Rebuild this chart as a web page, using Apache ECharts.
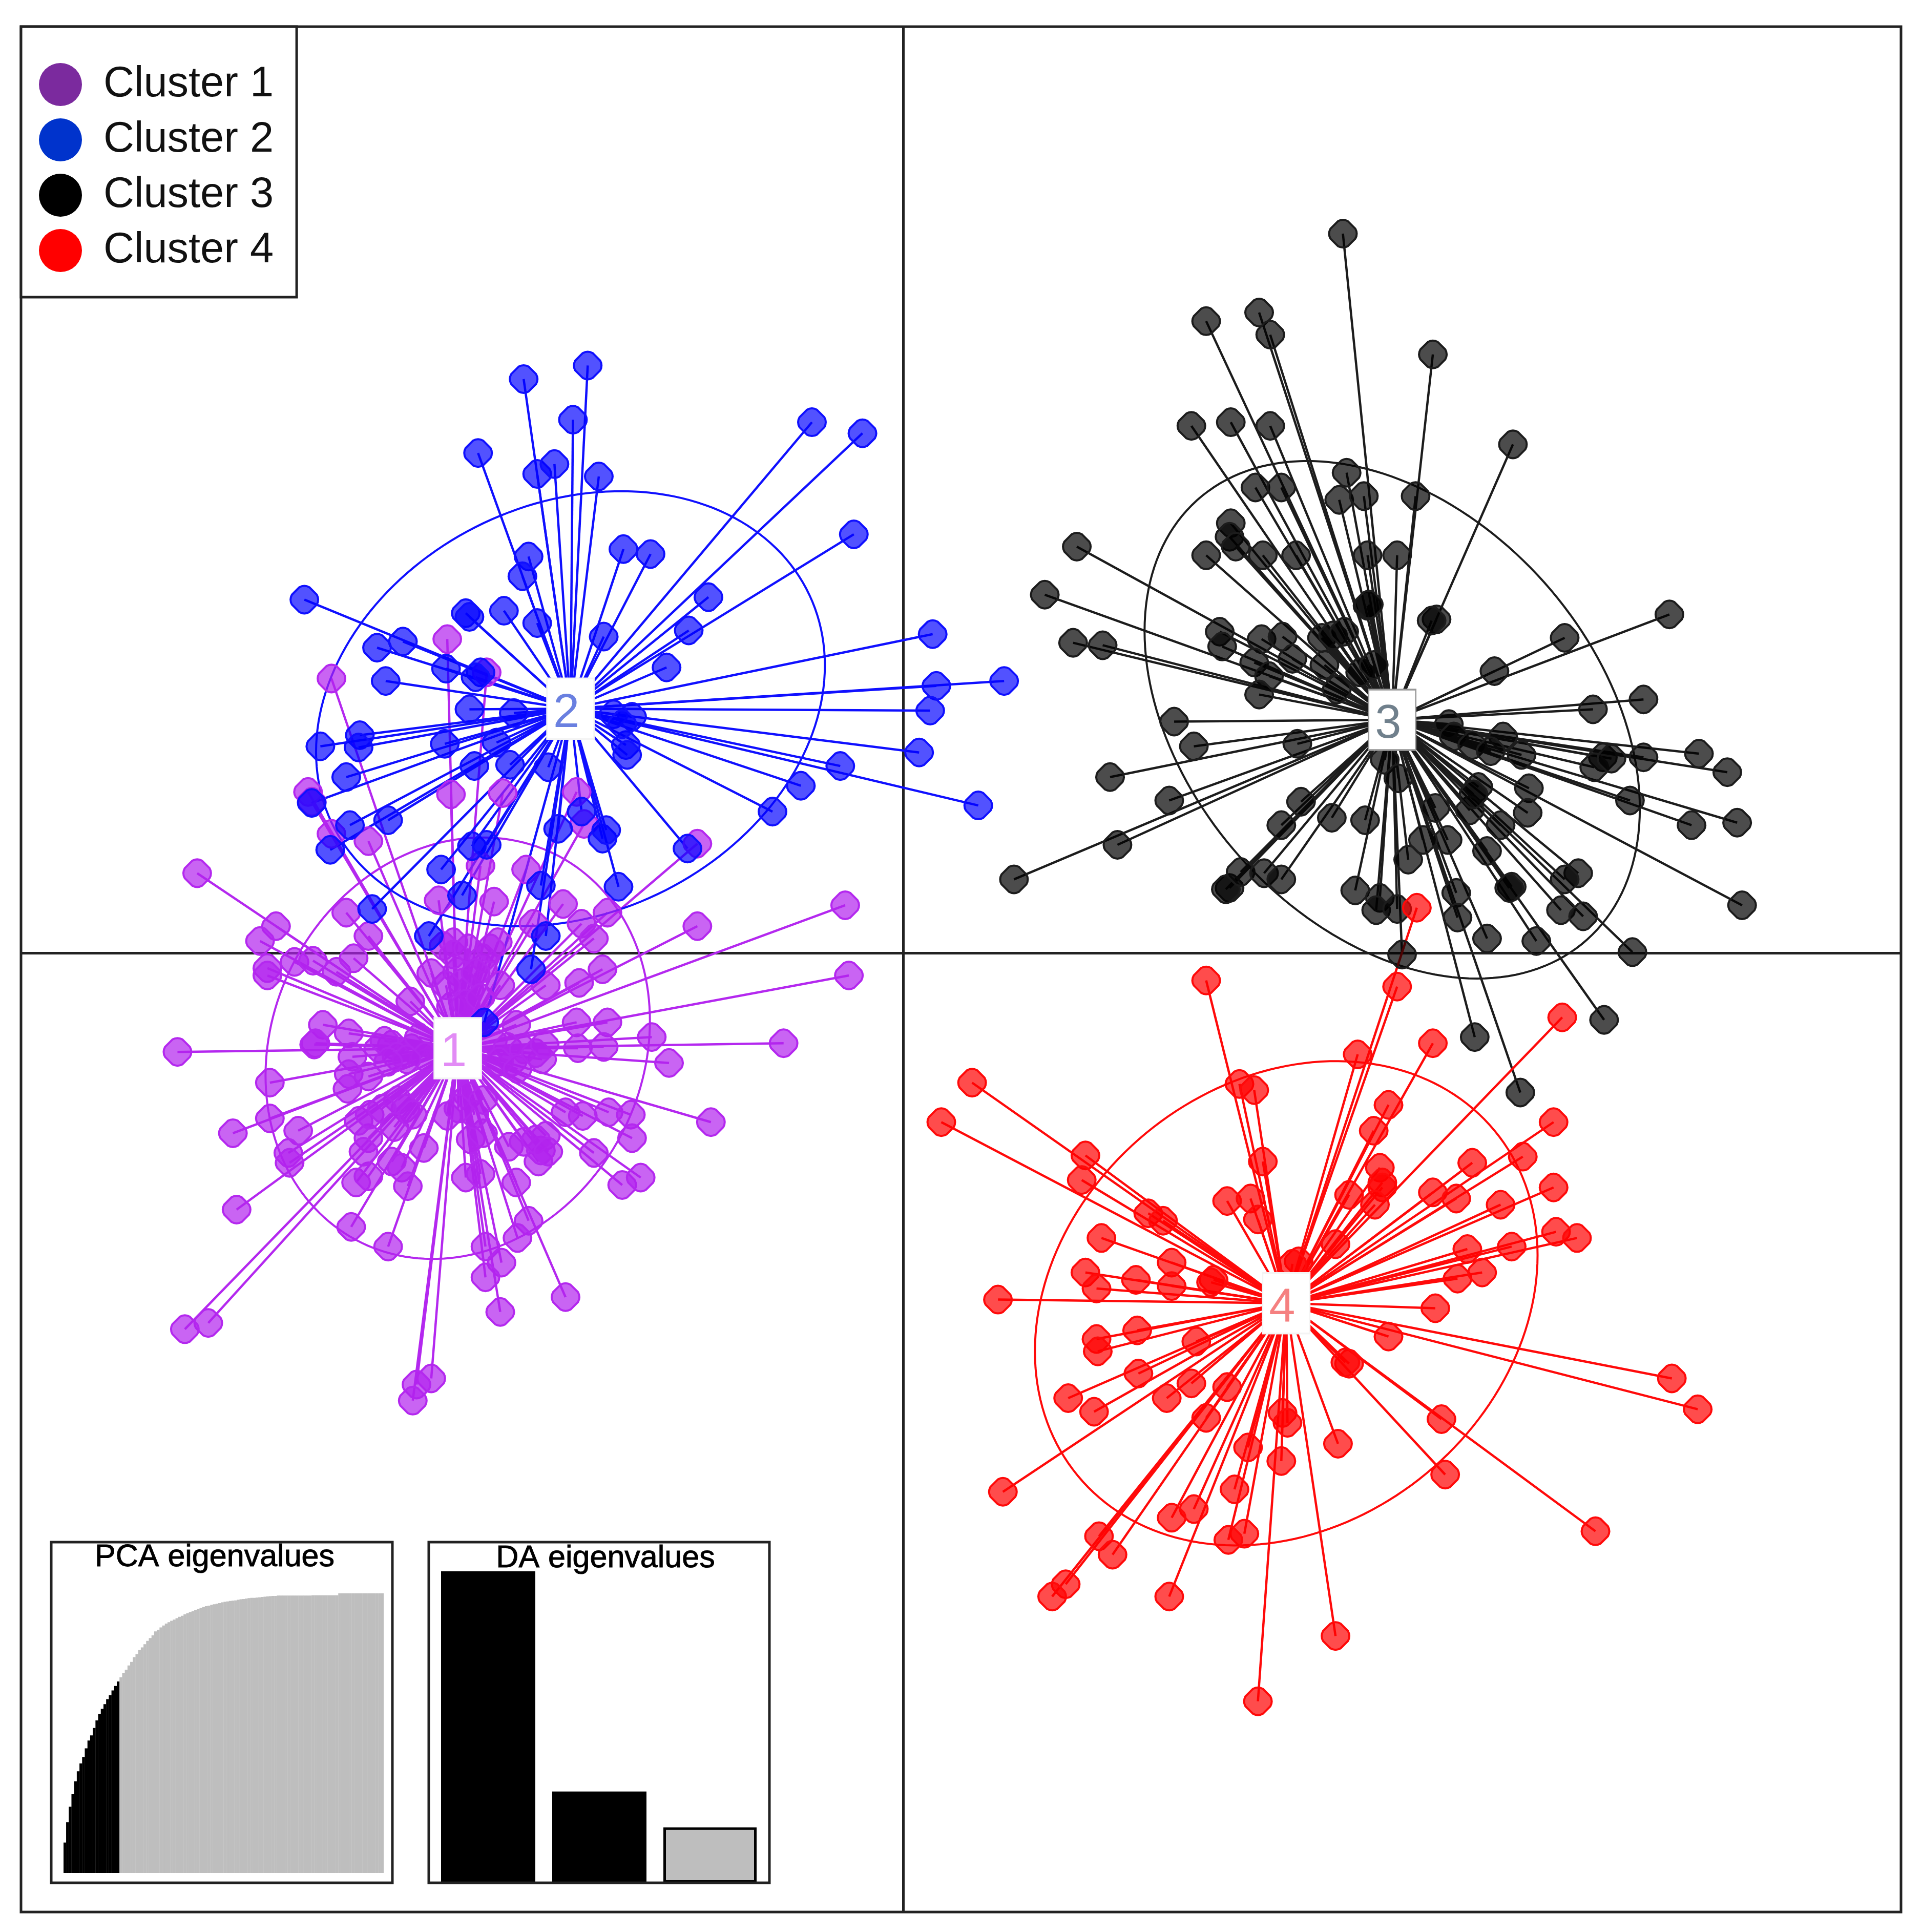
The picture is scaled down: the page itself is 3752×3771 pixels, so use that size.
<!DOCTYPE html>
<html><head><meta charset="utf-8">
<style>html,body{margin:0;padding:0;background:#fff}#c{width:3752px;height:3771px}</style>
<script src="https://cdn.jsdelivr.net/npm/echarts@6/dist/echarts.min.js"></script>
</head><body><div id="c"></div>
<script>
const clusterNames = ['Cluster 1','Cluster 2','Cluster 3','Cluster 4'];
const legendColors = ['#7B2A9E','#0033CC','#000000','#FF0000'];
const lineColors = ['#B428EF','#1010FF','#1C1C1C','#FF0A0A'];
const fillColors = ['rgba(178,34,238,0.7)','rgba(0,0,255,0.68)','rgba(0,0,0,0.7)','rgba(255,0,0,0.7)'];
const labelColors = ['#E28CF5','#6A80E0','#70808C','#F58080'];
const origin = [733,774];
const centroids = [[371.5,851],[463,575.5],[1130,584.5],[1044,1058]];
// halfWidth, halfHeight, skew of each inertia ellipse
const ellipses = [[156,171,-0.13],[206.5,176.5,-0.2],[201,210,0.35],[204,196.5,-0.2]];

const cluster1 = [[363,519],[395,546],[269,551],[250,643],[253,651],[366,645],[408,644],[468,643],[474,669],[269,677],[299,683],[566,685],
[160,709],[281,741],[224,752],[211,764],[299,760],[217,786],[217,792],[239,781],[254,780],[273,789],[287,778],[333,813],[356,731],[390,703],[427,706],
[401,732],[457,734],[433,750],[493,741],[472,750],[482,762],[489,787],[470,798],[443,800],[419,832],[468,830],[493,830],[529,842],[469,851],[490,850],
[440,860],[416,862],[368,765],[404,765],[371,789],[381,803],[366,817],[392,786],[360,768],[144,854],[262,832],[256,847],[255,848],[283,839],[318,848],
[334,851],[307,851],[286,858],[283,872],[299,874],[282,884],[219,879],[219,908],[189,920],[242,918],[234,936],[235,944],[192,982],[299,924],[291,910],
[323,893],[329,900],[363,906],[344,932],[318,943],[326,948],[289,960],[299,955],[331,963],[382,925],[392,920],[378,956],[390,953],[419,960],[413,931],
[425,927],[437,943],[443,922],[439,934],[459,903],[473,906],[494,903],[512,905],[513,924],[482,936],[505,962],[520,956],[285,996],[315,1012],[429,991],
[420,1005],[394,1012],[407,1025],[394,1037],[406,1065],[459,1053],[169,1074],[150,1079],[350,1119],[338,1124],[335,1137],[686,735],[566,752],[689,792],
[636,847],[543,863],[577,911],[368,775],[380,770],[392,778],[375,798],[386,790],[362,800],[378,815],[390,810],[398,770],[312,845],[322,858],[340,842],
[345,858],[330,860],[315,862],[400,845],[412,850],[425,852],[435,855],[405,862],[420,868],[442,848],[300,905],[310,900],[320,915],[335,905],[295,935],
[380,890],[385,905],[372,900],[392,893],[435,925],[445,935],[406,800],[350,790]];

const cluster2 = [[477,297],[425,308],[465,341],[388,368],[436,385],[450,377],[486,387],[429,452],[424,468],[506,446],[528,450],[247,487],[378,498],[381,501],
[409,496],[436,506],[490,517],[575,485],[559,512],[541,542],[327,521],[306,526],[362,543],[390,546],[386,550],[313,553],[381,576],[417,579],[292,597],
[291,607],[260,606],[361,604],[403,603],[281,631],[385,622],[414,621],[445,623],[508,605],[509,613],[513,582],[253,652],[315,666],[284,670],[453,673],
[472,659],[489,681],[492,674],[268,690],[358,706],[383,687],[395,686],[375,727],[439,719],[502,720],[302,738],[348,760],[443,760],[431,787],[393,830],
[659,343],[700,352],[693,434],[757,515],[760,557],[815,553],[755,577],[746,611],[682,622],[650,638],[627,659],[794,654],[558,689],[498,580],[505,588]];

const cluster3 = [[1090,190],[979,261],[1022,254],[1031,272],[1163,288],[1228,361],[967,346],[999,343],[1031,346],[1093,384],[1019,396],[1040,396],[1087,406],
[1107,403],[1149,403],[999,425],[998,436],[1003,444],[979,451],[1025,451],[1052,451],[1110,451],[1134,451],[874,444],[848,483],[1110,492],[1111,491],
[1166,503],[1162,504],[990,513],[992,525],[1024,519],[1041,517],[1073,518],[1082,516],[1270,518],[871,522],[895,524],[1018,538],[1049,535],[1030,549],
[1022,564],[1104,546],[1091,513],[1213,545],[953,586],[969,606],[1053,604],[901,631],[823,714],[949,650],[907,686],[1355,499],[1334,568],[1293,576],
[1176,588],[1220,598],[1235,613],[1301,615],[1294,623],[1308,616],[1334,615],[1379,612],[1402,627],[1124,617],[1241,640],[1240,660],[1323,650],[1373,670],
[1410,668],[1200,639],[1193,658],[1196,645],[1165,656],[1056,651],[1040,670],[1081,664],[1108,666],[1218,670],[1207,691],[1175,682],[1155,682],[1143,698],
[1227,720],[1225,721],[1281,709],[1270,714],[1182,725],[1183,745],[1207,762],[1247,764],[1267,739],[1285,744],[1325,773],[1414,735],[1302,828],[1197,842],
[1234,887],[1138,775],[1100,723],[1120,729],[1117,739],[1134,738],[998,721],[995,722],[1007,708],[1026,709],[1040,714],[1180,598],[1195,605],[1210,610],
[1135,632],[1085,560],[1115,540],[1075,540]];

const cluster4 = [[1150,737],[979,796],[1134,801],[1163,847],[1102,856],[789,879],[764,911],[1006,880],[1018,885],[1127,897],[1115,918],[881,938],[878,958],
[1025,943],[1120,948],[1122,960],[1122,964],[1195,944],[1095,970],[1116,978],[1163,968],[1182,973],[1218,978],[996,975],[1015,973],[1021,990],[1084,1010],
[932,985],[944,991],[894,1005],[951,1025],[1054,1024],[1049,1026],[881,1033],[922,1039],[951,1044],[985,1039],[983,1041],[890,1046],[810,1055],[1191,1014],
[1227,1012],[1183,1038],[1203,1033],[1165,1062],[1127,1085],[923,1080],[890,1087],[891,1097],[971,1089],[1095,1107],[1092,1106],[924,1115],[967,1123],
[996,1126],[947,1135],[867,1135],[888,1146],[979,1151],[1041,1147],[1045,1155],[1170,1152],[1268,826],[1261,911],[1236,939],[1261,964],[1263,1000],[1280,1005],
[1357,1119],[1378,1144],[1173,1197],[1295,1243],[1086,1172],[1040,1186],[1013,1175],[814,1211],[1002,1209],[969,1225],[951,1232],[1010,1245],[997,1250],
[892,1247],[903,1262],[865,1286],[854,1296],[949,1296],[1084,1328],[1021,1381]];
const clusters = [cluster1,cluster2,cluster3,cluster4];

const pcaRetained = [.109,.182,.237,.282,.328,.364,.392,.415,.446,.474,.492,.519,.546,.569,.587,.604,.622,.636,.653,.669,.685];
const pcaOther = [.700,.716,.727,.742,.755,.772,.783,.797,.807,.818,.830,.840,.850,.864,.870,.878,.885,.892,.897,.902,.906,.911,.916,.920,.925,.929,.933,.936,.940,.944,
.948,.951,.954,.956,.959,.961,.963,.965,.968,.970,.971,.973,.974,.975,.977,.979,.980,.981,.983,.984,.984,.985,.986,.987,.988,.989,.990,.991,.991,.992,
.992,.992,.992,.992,.992,.992,.992,.992,.992,.992,.992,.992,.993,.993,.993,.993,.993,.993,.993,.993,.993,.993,
1,1,1,1,1,1,1,1,1,1,1,1,1,1,1,1,1];
const pcaTitle = 'PCA eigenvalues';
const daTitle = 'DA eigenvalues';
const daRetained = [1,.293];
const daOther = [.178];

const series = [];
series.push({type:'line',data:[],xAxisIndex:0,yAxisIndex:0,silent:true,z:1,
  markLine:{silent:true,z:1,symbol:'none',label:{show:false},animation:false,
    lineStyle:{color:'#222',width:5,type:'solid'},
    data:[{xAxis:origin[0]},{yAxis:origin[1]}]}});
clusters.forEach((pts,i)=>{
  const c = centroids[i], e = ellipses[i];
  series.push({type:'custom',name:clusterNames[i],coordinateSystem:'cartesian2d',xAxisIndex:0,yAxisIndex:0,z:2,
    data:[c],encode:{x:0,y:1},itemStyle:{color:lineColors[i]},
    renderItem:(p,api)=>{
      const points=[];
      for(let k=0;k<=180;k++){const t=k/180*Math.PI*2;
        points.push(api.coord([c[0]+e[0]*Math.cos(t),c[1]+e[1]*Math.sin(t+e[2])]));}
      return {type:'polyline',shape:{points},style:{stroke:lineColors[i],fill:'none',lineWidth:4}};
    }});
  series.push({type:'custom',name:clusterNames[i],coordinateSystem:'cartesian2d',xAxisIndex:0,yAxisIndex:0,z:2,
    data:pts,encode:{x:0,y:1},itemStyle:{color:lineColors[i]},
    renderItem:(p,api)=>{
      const a=api.coord(c), b=api.coord([api.value(0),api.value(1)]);
      return {type:'line',shape:{x1:a[0],y1:a[1],x2:b[0],y2:b[1]},style:{stroke:lineColors[i],lineWidth:4.5,fill:'none'}};
    }});
  series.push({type:'scatter',name:clusterNames[i],xAxisIndex:0,yAxisIndex:0,z:2,data:pts,
    symbol:'path://M32,5 Q50,-5 68,5 L95,32 Q105,50 95,68 L68,95 Q50,105 32,95 L5,68 Q-5,50 5,32 Z',
    symbolSize:54,itemStyle:{color:fillColors[i],borderColor:lineColors[i],borderWidth:4,opacity:1}});
});
series.push({type:'scatter',name:'Centroids',xAxisIndex:0,yAxisIndex:0,z:6,
  data:centroids.map((c,i)=>({value:c,
    label:{show:true,position:'inside',offset:[-8,10],formatter:String(i+1),color:labelColors[i],fontSize:92,fontFamily:'Liberation Sans',opacity:1},
    itemStyle:{color:'#fff',borderColor:i===2?'#999':'#f4f4f4',borderWidth:3,opacity:1}})),
  symbol:'rect',symbolSize:[92,118]});
const pcaN = pcaRetained.length+pcaOther.length;
series.push({type:'bar',xAxisIndex:1,yAxisIndex:1,barWidth:'106%',barGap:'-100%',silent:true,z:8,
  data:pcaRetained.concat(pcaOther.map(()=>null)),itemStyle:{color:'#000'}});
series.push({type:'bar',xAxisIndex:1,yAxisIndex:1,barWidth:'106%',barGap:'-100%',silent:true,z:8,
  data:pcaRetained.map(()=>null).concat(pcaOther),itemStyle:{color:'#BEBEBE'}});
series.push({type:'bar',xAxisIndex:2,yAxisIndex:2,barWidth:184,barGap:'-100%',silent:true,z:8,
  data:daRetained.concat(daOther.map(()=>null)),itemStyle:{color:'#000',borderColor:'#000',borderWidth:2}});
series.push({type:'bar',xAxisIndex:2,yAxisIndex:2,barWidth:182,barGap:'-100%',silent:true,z:8,
  data:daRetained.map(()=>null).concat(daOther),itemStyle:{color:'#BEBEBE',borderColor:'#000',borderWidth:5}});

const hiddenCat = (n,gridIndex)=>({type:'category',gridIndex,show:false,data:Array.from({length:n},(_,i)=>i+1)});
const hiddenVal = (gridIndex)=>({type:'value',gridIndex,show:false,min:0,max:1});
const frameStyle = {fill:'none',stroke:'#222',lineWidth:5};
const insetTitle = {fontFamily:'Liberation Sans',fontSize:61,fontWeight:'normal',color:'#000',textBorderColor:'#000',textBorderWidth:1};

const option = {
  animation:false,backgroundColor:'#fff',
  title:[
    {text:pcaTitle,left:419,top:3010,textAlign:'center',textStyle:insetTitle,z:20,padding:0},
    {text:daTitle,left:1182,top:3012,textAlign:'center',textStyle:insetTitle,z:20,padding:0}
  ],
  legend:{data:clusterNames.map((n,i)=>({name:n,icon:'circle',itemStyle:{color:legendColors[i],opacity:1,borderWidth:0}})),
    orient:'vertical',left:41,top:52,padding:[71,45,49,35],itemWidth:84,itemHeight:84,itemGap:24,
    borderColor:'#222',borderWidth:5,backgroundColor:'#fff',selectedMode:false,z:20,
    textStyle:{fontFamily:'Liberation Sans',fontSize:83,color:'#111',padding:[13,0,0,37]}},
  grid:[
    {left:41,top:52,width:3670,height:3680,show:true,borderColor:'#222',borderWidth:5,backgroundColor:'transparent',containLabel:false},
    {left:124,top:3110,width:625,height:546},
    {left:843.5,top:3067,width:651,height:608}
  ],
  xAxis:[{type:'value',gridIndex:0,min:17,max:1543,show:false},hiddenCat(pcaN,1),hiddenCat(3,2)],
  yAxis:[{type:'value',gridIndex:0,min:22,max:1552,inverse:true,show:false},hiddenVal(1),hiddenVal(2)],
  graphic:[
    {type:'rect',z:9,shape:{x:100,y:3010,width:666,height:665},style:frameStyle,silent:true},
    {type:'rect',z:9,shape:{x:837,y:3010,width:665,height:665},style:frameStyle,silent:true}
  ],
  series
};
const chart = echarts.init(document.getElementById('c'),null,{renderer:'canvas',width:3752,height:3771});
chart.setOption(option);
</script></body></html>
